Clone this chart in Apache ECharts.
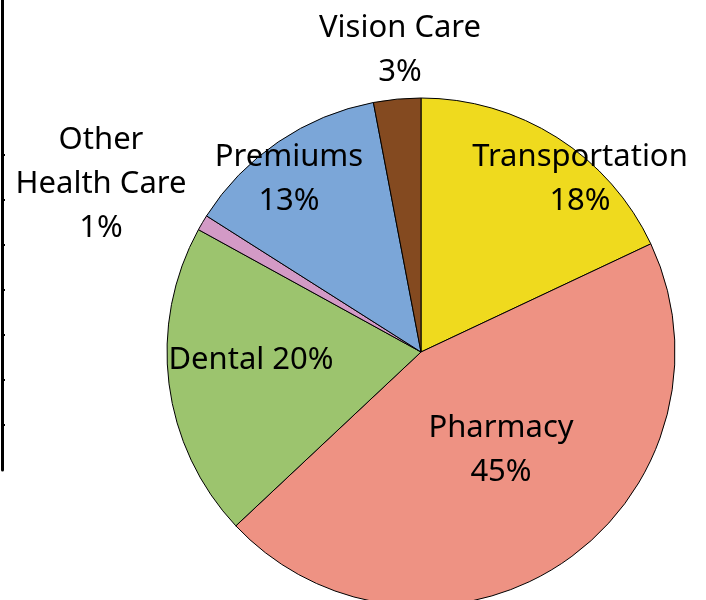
<!DOCTYPE html>
<html>
<head>
<meta charset="utf-8">
<script src="https://cdn.jsdelivr.net/npm/echarts@6/dist/echarts.min.js"></script>
<style>
  html, body { margin: 0; padding: 0; background: #fff; }
  #main { width: 706px; height: 600px; }
</style>
</head>
<body>
<div id="main"></div>
<script>
// slices, clockwise from 12 o'clock
const categories = ['Transportation', 'Pharmacy', 'Dental', 'Other\nHealth Care', 'Premiums', 'Vision Care'];
const shares = [18, 45, 20, 1, 13, 3];
const colors = ['#EFDA1E', '#EE9283', '#9CC46E', '#D39AC6', '#7BA6D8', '#844A20'];
// ticks of the cut-off axis on the left edge
const leftTicks = [45, 90, 135, 180, 225, 270, 315];

// where each label block is centred
const labelPos = [[580, 179], [501, 450], [251, 360], [101, 184], [289, 179], [400, 50]];

const myChart = echarts.init(document.getElementById('main'));
const option = {
  animation: false,
  grid: { left: 2, top: 0, width: 1, height: 470 },
  xAxis: { type: 'value', show: false },
  yAxis: {
    type: 'value',
    min: 0,
    max: 470,
    axisLine: { show: true, lineStyle: { color: '#000', width: 3 } },
    axisTick: { show: true, inside: true, length: 3, customValues: leftTicks, lineStyle: { color: '#000', width: 2 } },
    axisLabel: { show: false },
    splitLine: { show: false }
  },
  series: [
    {
      type: 'pie',
      center: [421, 352],
      radius: 254,
      startAngle: 90,
      clockwise: true,
      silent: true,
      data: categories.map((name, i) => ({ name: name, value: shares[i], itemStyle: { color: colors[i] } })),
      itemStyle: { borderColor: '#000', borderWidth: 1 },
      label: {
        show: true,
        position: 'inside',
        color: '#000',
        fontFamily: 'Noto Sans',
        fontSize: 31,
        lineHeight: 44,
        formatter: p => p.name + (p.name === 'Dental' ? ' ' : '\n') + p.value + '%'
      },
      labelLine: { show: false },
      labelLayout: params => {
        const pos = labelPos[params.dataIndex];
        return { x: pos[0], y: pos[1], align: 'center', verticalAlign: 'middle' };
      }
    }
  ]
};
myChart.setOption(option);
</script>
</body>
</html>
